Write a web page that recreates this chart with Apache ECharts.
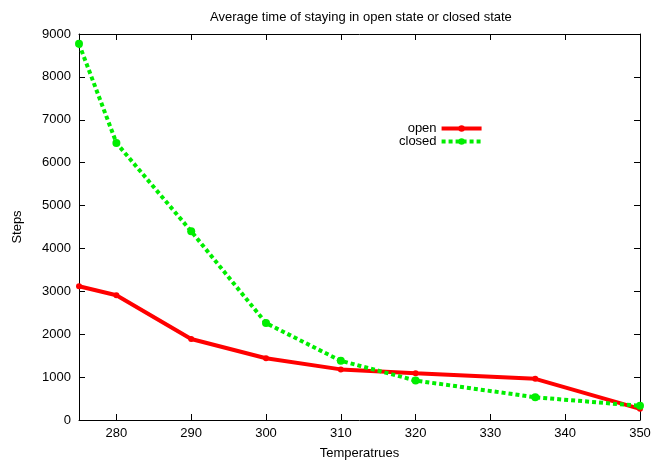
<!DOCTYPE html>
<meta charset="utf-8">
<style>
html, body { margin: 0; padding: 0; background: #fff; }
#main { width: 654px; height: 460px; }
</style>
<div id="main"></div>
<script src="https://cdn.jsdelivr.net/npm/echarts@6/dist/echarts.min.js"></script>
<script>
var temps = [275, 280, 290, 300, 310, 320, 336, 350];
var openSteps = [3120, 2910, 1890, 1440, 1180, 1090, 960, 260];
var closedSteps = [8770, 6460, 4400, 2260, 1380, 920, 530, 330];
var xTicks = [280, 290, 300, 310, 320, 330, 340, 350];

function pairs(ys) {
    return temps.map(function (t, i) { return [t, ys[i]]; });
}

var font = 'Liberation Sans, Arial, sans-serif';
var black = { color: '#000', width: 1 };
var tick = { show: true, inside: true, length: 6, lineStyle: { color: '#000' } };

var chart = echarts.init(document.getElementById('main'));

chart.setOption({
    animation: false,
    title: {
        text: 'Average time of staying in open state or closed state',
        left: 205,
        top: 6,
        textStyle: { fontFamily: font, fontSize: 13, fontWeight: 'normal', color: '#000' }
    },
    legend: {
        orient: 'vertical',
        left: 394,
        top: 117,
        align: 'right',
        itemWidth: 40,
        itemHeight: 8,
        itemGap: 0,
        textStyle: { fontFamily: font, fontSize: 13, color: '#000' },
        data: [
            { name: 'open', lineStyle: { width: 4 } },
            { name: 'closed', lineStyle: { width: 4 } }
        ]
    },
    grid: { left: 79, right: 14, top: 34, bottom: 40, outerBoundsMode: 'none' },
    xAxis: [{
        type: 'value',
        min: 275,
        max: 350,
        name: 'Temperatrues',
        nameLocation: 'middle',
        nameGap: 27,
        nameTextStyle: { fontFamily: font, fontSize: 13, color: '#000' },
        axisLine: { onZero: false, lineStyle: black },
        axisTick: { show: true, inside: true, length: 6, customValues: xTicks, lineStyle: { color: '#000' } },
        axisLabel: { customValues: xTicks, fontFamily: font, fontSize: 13, color: '#000', margin: 7 },
        splitLine: { show: false }
    }, {
        type: 'value',
        position: 'top',
        min: 275,
        max: 350,
        axisLine: { show: true, onZero: false, lineStyle: black },
        axisTick: { show: true, inside: true, length: 6, customValues: xTicks, lineStyle: { color: '#000' } },
        axisLabel: { show: false },
        splitLine: { show: false }
    }],
    yAxis: [{
        type: 'value',
        min: 0,
        max: 9000,
        interval: 1000,
        name: 'Steps',
        nameLocation: 'middle',
        nameGap: 55,
        nameTextStyle: { fontFamily: font, fontSize: 13, color: '#000' },
        axisLine: { show: true, onZero: false, lineStyle: black },
        axisTick: tick,
        axisLabel: {
            fontFamily: font, fontSize: 13, color: '#000', margin: 8,
            formatter: function (v) { return String(v); }
        },
        splitLine: { show: false }
    }, {
        type: 'value',
        position: 'right',
        min: 0,
        max: 9000,
        interval: 1000,
        axisLine: { show: true, onZero: false, lineStyle: black },
        axisTick: tick,
        axisLabel: { show: false },
        splitLine: { show: false }
    }],
    series: [{
        name: 'open',
        type: 'line',
        data: pairs(openSteps),
        symbol: 'circle',
        symbolSize: 6,
        showAllSymbol: true,
        itemStyle: { color: '#ff0000' },
        lineStyle: { color: '#ff0000', width: 4 }
    }, {
        name: 'closed',
        type: 'line',
        data: pairs(closedSteps),
        symbol: 'circle',
        symbolSize: 8,
        showAllSymbol: true,
        itemStyle: { color: '#00ee00' },
        lineStyle: { color: '#00ee00', width: 4, type: [4, 3] }
    }]
});
</script>
